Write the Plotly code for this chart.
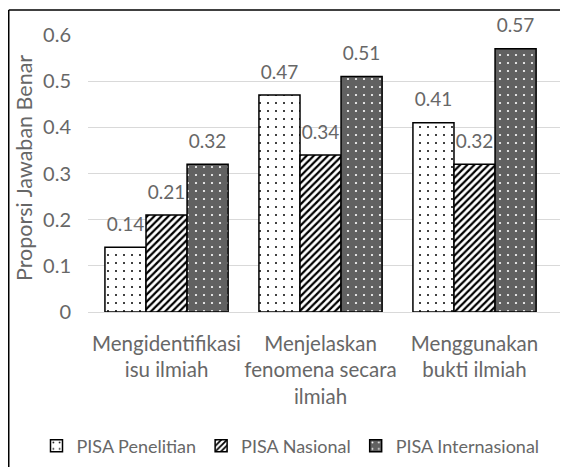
import plotly.graph_objects as go

categories = ["Mengidentifikasi isu ilmiah", "Menjelaskan fenomena secara ilmiah", "Menggunakan bukti ilmiah"]
tick_labels = ["Mengidentifikasi<br>isu ilmiah", "Menjelaskan<br>fenomena secara<br>ilmiah", "Menggunakan<br>bukti ilmiah"]
series_names = ["PISA Penelitian", "PISA Nasional", "PISA Internasional"]
pisa_penelitian = [0.14, 0.47, 0.41]
pisa_nasional = [0.21, 0.34, 0.32]
pisa_internasional = [0.32, 0.51, 0.57]
y_ticks = [0, 0.1, 0.2, 0.3, 0.4, 0.5, 0.6]
y_tick_labels = ["0", "0.1", "0.2", "0.3", "0.4", "0.5", "0.6"]
y_title = "Proporsi Jawaban Benar"

FONT = "Lato, Calibri, Carlito, sans-serif"
GREY = "#676767"
BARGAP = 0.2

patterns = [
    dict(shape=".", fgcolor="black", bgcolor="white", size=8, solidity=0.05, fillmode="replace"),
    dict(shape="/", fgcolor="black", bgcolor="white", size=5, solidity=0.45, fillmode="replace"),
    dict(shape=".", fgcolor="white", bgcolor="#616161", size=8, solidity=0.06, fillmode="replace"),
]

series = [pisa_penelitian, pisa_nasional, pisa_internasional]

fig = go.Figure()
for name, vals, pat in zip(series_names, series, patterns):
    fig.add_trace(go.Bar(
        x=categories, y=vals, name=name,
        marker=dict(color="white", pattern=pat, line=dict(color="black", width=1.5)),
        offsetgroup=name, hoverinfo="skip",
    ))
for name, vals in zip(series_names, series):
    fig.add_trace(go.Scatter(
        x=categories, y=vals, mode="markers+text",
        text=[f"{v:.2f}" for v in vals], textposition="top center",
        textfont=dict(family=FONT, size=19, color=GREY),
        marker=dict(size=17, opacity=0),
        offsetgroup=name, showlegend=False, hoverinfo="skip", cliponaxis=False,
    ))

# the page body adds an 8px offset, so the figure is 560x459 placed at (8, 8)
OFF = 8
W, H = 568 - OFF, 467 - OFF
L, T, R = 88 - OFF, 35 - OFF, 0
B = H - (312 - OFF)
pw = W - L - R
ph = H - T - B

def px_x(p):
    return (p - OFF - L) / pw

def px_y(p):
    return (H - B - (p - OFF)) / ph

fig.update_layout(
    width=W, height=H,
    margin=dict(l=L, r=R, t=T, b=B, pad=0),
    paper_bgcolor="white", plot_bgcolor="white",
    barmode="group", bargap=BARGAP, bargroupgap=0,
    scattermode="group", scattergap=BARGAP,
    font=dict(family=FONT, color=GREY, size=18),
    xaxis=dict(
        type="category", tickvals=categories, ticktext=tick_labels,
        range=[-0.51, 2.607], showgrid=False, showline=True, linecolor="#d9d9d9", linewidth=1,
        ticks="", tickfont=dict(family=FONT, size=20.5, color=GREY), ticklabelstandoff=13,
    ),
    yaxis=dict(
        range=[0, 0.6], tickvals=y_ticks, ticktext=y_tick_labels,
        showgrid=True, gridcolor="#d9d9d9", gridwidth=1, zeroline=False,
        ticks="", tickfont=dict(family=FONT, size=20, color=GREY), ticklabelstandoff=16,
    ),
    annotations=[dict(
        text=y_title, textangle=-90, xref="paper", yref="paper",
        x=px_x(24), y=px_y(168), xanchor="center", yanchor="middle", showarrow=False,
        font=dict(family=FONT, size=21.5, color=GREY),
    )],
    legend=dict(
        orientation="h", x=px_x(36.5), y=px_y(446), xanchor="left", yanchor="middle",
        font=dict(family=FONT, size=18, color=GREY), itemwidth=30, traceorder="normal",
        bgcolor="rgba(0,0,0,0)", tracegroupgap=0,
    ),
    shapes=[
        dict(type="line", xref="paper", yref="paper", x0=px_x(8.75), x1=px_x(570), y0=px_y(10), y1=px_y(10),
             line=dict(color="black", width=1.5)),
        dict(type="line", xref="paper", yref="paper", x0=px_x(8.75), x1=px_x(8.75), y0=px_y(10), y1=px_y(470),
             line=dict(color="black", width=1.5)),
    ],
)

fig.write_html("out.html")
